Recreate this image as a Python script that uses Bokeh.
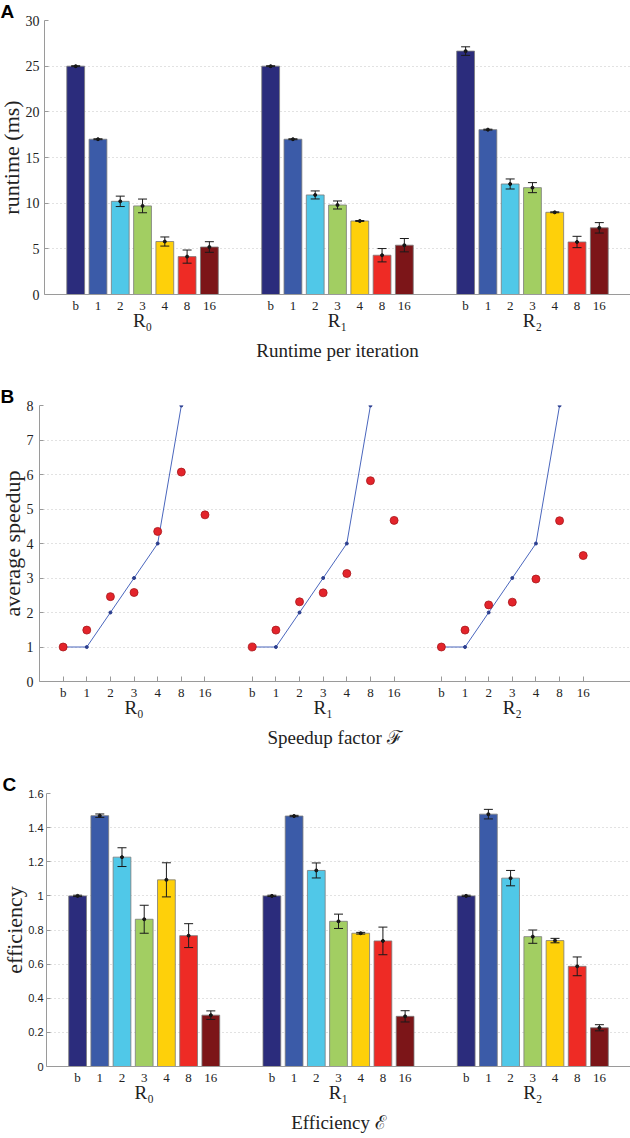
from bokeh.plotting import figure
from bokeh.models import (ColumnDataSource, FixedTicker, LinearAxis, Range1d,
                          Whisker, TeeHead, Title)
from bokeh.layouts import column
from bokeh.embed import file_html
from bokeh.resources import INLINE

# ---------------- data ----------------
configs = ["b", "1", "2", "3", "4", "8", "16"]
groups = ["R\u2080", "R\u2081", "R\u2082"]
bar_colors = ["#2b2c7c", "#3b5ba8", "#50c8e8", "#a2ce62", "#fed00a", "#ee2b25", "#7c1518"]

runtime_R0 = [25.0, 17.0, 10.2, 9.7, 5.8, 4.15, 5.2]
runtime_R1 = [25.0, 17.0, 10.9, 9.8, 8.05, 4.3, 5.4]
runtime_R2 = [26.65, 18.05, 12.1, 11.7, 9.0, 5.75, 7.3]
runtime_err_R0 = [0.05, 0.05, 0.57, 0.75, 0.5, 0.72, 0.58]
runtime_err_R1 = [0.05, 0.05, 0.44, 0.44, 0.05, 0.73, 0.73]
runtime_err_R2 = [0.47, 0.05, 0.55, 0.55, 0.05, 0.62, 0.57]
runtime_ticks = [0, 5, 10, 15, 20, 25, 30]

speedup_R0 = [1.0, 1.49, 2.46, 2.58, 4.35, 6.07, 4.83]
speedup_R1 = [1.0, 1.49, 2.31, 2.57, 3.13, 5.82, 4.67]
speedup_R2 = [1.0, 1.49, 2.22, 2.30, 2.97, 4.66, 3.65]
ideal_configs = ["b", "1", "2", "3", "4", "8"]
ideal_speedup = [1, 1, 2, 3, 4, 8]
speedup_ticks = [0, 1, 2, 3, 4, 5, 6, 7, 8]

efficiency_R0 = [1.0, 1.47, 1.227, 0.863, 1.094, 0.767, 0.301]
efficiency_R1 = [1.0, 1.468, 1.149, 0.851, 0.781, 0.736, 0.294]
efficiency_R2 = [1.0, 1.479, 1.104, 0.761, 0.738, 0.587, 0.227]
efficiency_err_R0 = [0.004, 0.01, 0.055, 0.082, 0.1, 0.07, 0.025]
efficiency_err_R1 = [0.004, 0.004, 0.044, 0.042, 0.005, 0.081, 0.033]
efficiency_err_R2 = [0.004, 0.028, 0.045, 0.039, 0.013, 0.055, 0.018]
efficiency_ticks = [0, 0.2, 0.4, 0.6, 0.8, 1.0, 1.2, 1.4, 1.6]
efficiency_tick_labels = ["0", "0.2", "0.4", "0.6", "0.8", "1", "1.2", "1.4", "1.6"]

SERIF = "Liberation Serif"
SANS = "Liberation Sans"
AXIS_GRAY = "#9a9a9a"
TEXT = "#222222"

# try to let each panel keep its own frame position
_probe = figure(width=10, height=10)
try:
    _probe.frame_align = False
    UNALIGNED = True
except Exception:
    UNALIGNED = False


def slot_positions(step):
    return [1 + i + g * step for g in range(len(groups)) for i in range(len(configs))]


def group_centers(step):
    return [1 + (len(configs) - 1) / 2 + g * step for g in range(len(groups))]


def make_fig(height, x_range, y_end, y_ticks, y_tick_labels, step, border_top,
             border_left, border_bottom, ylabel, ylabel_standoff, ytick_standoff,
             letter, letter_offset, title, ytick_font, ytick_size, xtick_in):
    p = figure(width=630, height=height, x_range=x_range, y_range=Range1d(0, y_end),
               output_backend="svg", toolbar_location=None,
               min_border_top=border_top, min_border_left=border_left,
               min_border_bottom=border_bottom, min_border_right=0)
    if UNALIGNED:
        p.frame_align = False
    p.outline_line_color = None
    p.xgrid.visible = False
    p.ygrid.grid_line_color = "#c4c4c4"
    p.ygrid.grid_line_dash = "1 3"
    p.ygrid.grid_line_width = 1

    ya = p.yaxis[0]
    ya.ticker = FixedTicker(ticks=y_ticks)
    ya.major_label_overrides = {t: l for t, l in zip(y_ticks, y_tick_labels)}
    ya.axis_line_color = AXIS_GRAY
    ya.major_tick_line_color = AXIS_GRAY
    ya.major_tick_in = 4
    ya.major_tick_out = 0
    ya.minor_tick_line_color = None
    ya.major_label_text_font = ytick_font
    ya.major_label_text_font_size = ytick_size
    ya.major_label_text_color = TEXT
    ya.major_label_standoff = ytick_standoff

    p.add_layout(Title(text=ylabel, align="center", vertical_align="middle",
                       text_font=SERIF, text_font_size="22px",
                       text_font_style="normal", text_color=TEXT,
                       standoff=ylabel_standoff), "left")

    pos = slot_positions(step)
    labels = configs * len(groups)
    xa = p.xaxis[0]
    xa.ticker = FixedTicker(ticks=pos)
    xa.major_label_overrides = {t: l for t, l in zip(pos, labels)}
    xa.axis_line_color = AXIS_GRAY
    xa.major_tick_line_color = AXIS_GRAY if xtick_in else None
    xa.major_tick_in = xtick_in
    xa.major_tick_out = 0
    xa.minor_tick_line_color = None
    xa.major_label_text_font = SERIF
    xa.major_label_text_font_size = "13px"
    xa.major_label_text_color = TEXT
    xa.major_label_standoff = 3

    gc = group_centers(step)
    ga = LinearAxis(ticker=FixedTicker(ticks=gc),
                    major_label_overrides={c: g for c, g in zip(gc, groups)},
                    axis_line_color=None, major_tick_line_color=None,
                    minor_tick_line_color=None, major_label_standoff=-12,
                    major_label_text_font=SERIF, major_label_text_font_size="19px",
                    major_label_text_color=TEXT)
    p.add_layout(ga, "below")

    p.add_layout(Title(text=title, align="center", text_font=SERIF,
                       text_font_size="19px", text_font_style="normal",
                       text_color=TEXT, standoff=8), "below")

    p.add_layout(Title(text=letter, align="left", offset=letter_offset,
                       text_font=SANS, text_font_style="bold",
                       text_font_size="19px", text_color="black",
                       standoff=-3), "above")
    return p


def add_bars(p, step, series, errors):
    pos = slot_positions(step)
    tops = [v for s in series for v in s]
    errs = [e for s in errors for e in s]
    cols = bar_colors * len(groups)
    src = ColumnDataSource(dict(x=pos, top=tops, color=cols,
                                upper=[t + e for t, e in zip(tops, errs)],
                                lower=[t - e for t, e in zip(tops, errs)]))
    p.vbar(x="x", top="top", width=0.8, source=src, fill_color="color",
           line_color="#7a7a7a", line_alpha=0.8, line_width=1)
    w = Whisker(base="x", upper="upper", lower="lower", source=src,
                line_color="#1a1a1a", line_width=1, level="annotation",
                upper_head=TeeHead(size=9, line_color="#1a1a1a", line_width=1),
                lower_head=TeeHead(size=9, line_color="#1a1a1a", line_width=1))
    p.add_layout(w)
    p.scatter(x="x", y="top", source=src, size=3, color="#111111")


# ---------------- panel A ----------------
STEP_AC = 8.75
pA = make_fig(height=366, x_range=Range1d(-0.4, 25.9), y_end=30,
              y_ticks=runtime_ticks, y_tick_labels=[str(t) for t in runtime_ticks],
              step=STEP_AC, border_top=20, border_left=44, border_bottom=72,
              ylabel="runtime (ms)", ylabel_standoff=-5, ytick_standoff=5,
              letter="A", letter_offset=-44, title="Runtime per iteration",
              ytick_font=SERIF, ytick_size="14px", xtick_in=0)
add_bars(pA, STEP_AC, [runtime_R0, runtime_R1, runtime_R2],
         [runtime_err_R0, runtime_err_R1, runtime_err_R2])

# ---------------- panel B ----------------
STEP_B = 8
pB = make_fig(height=386, x_range=Range1d(0, 25), y_end=8,
              y_ticks=speedup_ticks, y_tick_labels=[str(t) for t in speedup_ticks],
              step=STEP_B, border_top=39, border_left=39, border_bottom=71,
              ylabel="average speedup", ylabel_standoff=-5, ytick_standoff=6,
              letter="B", letter_offset=(-39 if UNALIGNED else -44),
              title="Speedup factor \u2131",
              ytick_font=SERIF, ytick_size="14px", xtick_in=5)
posB = slot_positions(STEP_B)
n_ideal = len(ideal_configs)
for g in range(len(groups)):
    xs = posB[g * len(configs): g * len(configs) + n_ideal]
    pB.line(xs, ideal_speedup, line_color="#4a66bd", line_width=1)
    pB.scatter(xs, ideal_speedup, size=3, color="#2c3f8f")
pB.scatter(posB, speedup_R0 + speedup_R1 + speedup_R2, size=8,
           fill_color="#e3242b", line_color="#a8181c", line_width=0.8)

# ---------------- panel C ----------------
pC = make_fig(height=386, x_range=Range1d(-0.4, 25.9), y_end=1.6,
              y_ticks=efficiency_ticks, y_tick_labels=efficiency_tick_labels,
              step=STEP_AC, border_top=41, border_left=46, border_bottom=72,
              ylabel="efficiency", ylabel_standoff=-5, ytick_standoff=3,
              letter="C", letter_offset=-44, title="Efficiency \u2130",
              ytick_font=SANS, ytick_size="11px", xtick_in=0)
add_bars(pC, STEP_AC, [efficiency_R0, efficiency_R1, efficiency_R2],
         [efficiency_err_R0, efficiency_err_R1, efficiency_err_R2])

layout = column(pA, pB, pC, spacing=0)
open("out.html", "w").write(file_html(layout, INLINE))
